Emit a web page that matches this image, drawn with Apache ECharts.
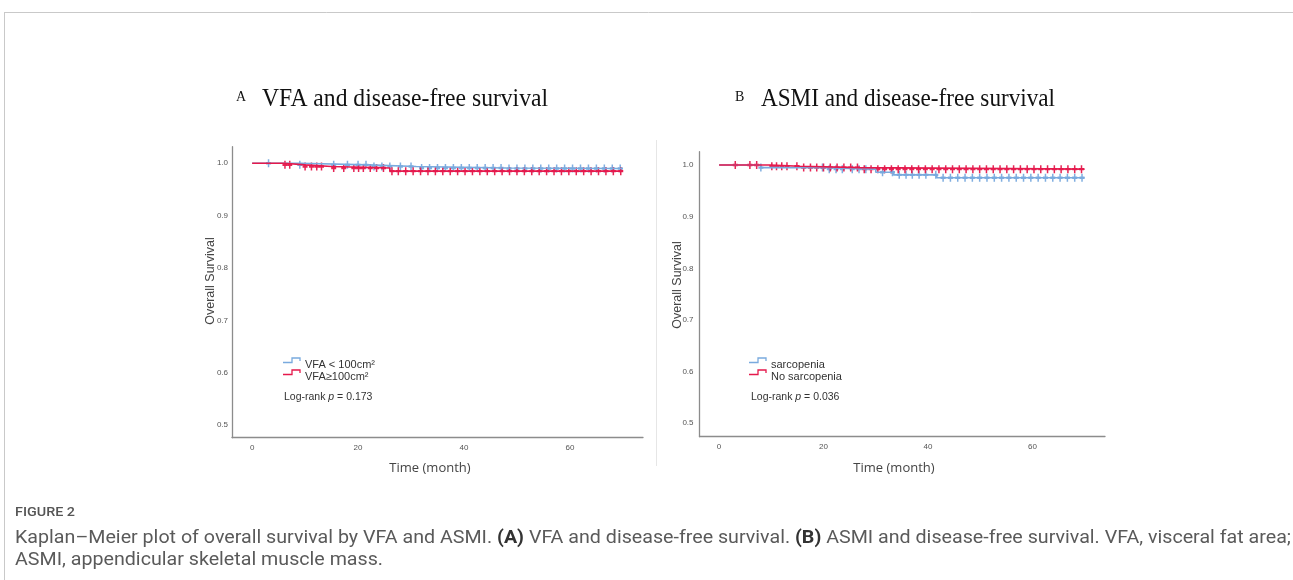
<!DOCTYPE html>
<html><head><meta charset="utf-8">
<script src="https://cdn.jsdelivr.net/npm/echarts@6/dist/echarts.min.js"></script>
<style>html,body{margin:0;padding:0;background:#fff;}#c{width:1293px;height:580px;}</style>
</head><body><div id="c"></div><script>
// ---------------- data ----------------
const panelLetters = ['A', 'B'];
const panelTitles = ['VFA and disease-free survival', 'ASMI and disease-free survival'];
const yAxisTitle = 'Overall Survival';
const xAxisTitle = 'Time (month)';
const timeTicks = [0, 20, 40, 60];
const survTicks = [0.5, 0.6, 0.7, 0.8, 0.9, 1.0];

// Panel A: VFA
const aSeriesNames = ['VFA < 100cm²', 'VFA≥100cm²'];
const aPValue = '0.173';
const aLowTime = [0, 9, 22, 31, 48, 70];
const aLowSurv = [1.0, 0.997, 0.994, 0.991, 0.990, 0.990];
const aHighTime = [0, 6, 10, 15, 26, 70];
const aHighSurv = [1.0, 0.997, 0.994, 0.991, 0.985, 0.985];
const aLowCensor = [3.1, 9, 15.4, 18, 20, 21.5, 23, 24.5, 26, 28, 30, 32, 33.5, 35, 36.5, 38, 39.5, 41, 42.5, 44, 45.5, 47, 48.5, 50, 51.5, 53, 54.5, 56, 57.5, 59, 60.5, 62, 63.5, 65, 66.5, 68, 69.5];
const aHighCensor = [6.2, 7.1, 10, 11.2, 12.2, 13.1, 15.4, 17.3, 19.2, 20.1, 21, 22.3, 23.5, 24.8, 26.4, 27.6, 29, 30.4, 31.8, 33.2, 34.6, 36, 37.4, 38.8, 40.2, 41.6, 43, 44.4, 45.8, 47.2, 48.6, 50, 51.4, 52.8, 54.2, 55.6, 57, 58.4, 59.8, 61.2, 62.6, 64, 65.4, 66.8, 68.2, 69.6];

// Panel B: ASMI
const bSeriesNames = ['sarcopenia', 'No sarcopenia'];
const bPValue = '0.036';
const bSarcTime = [0, 8, 20, 30, 33.4, 41.7, 70];
const bSarcSurv = [1.0, 0.995, 0.992, 0.986, 0.981, 0.9755, 0.9755];
const bNoTime = [0, 9.8, 15.5, 27, 70];
const bNoSurv = [1.0, 0.9975, 0.995, 0.992, 0.992];
const bSarcCensor = [8, 19.8, 21.1, 22.4, 23.6, 25.5, 26.8, 28.1, 31.3, 33.2, 34.5, 35.8, 37, 38.3, 39.6, 41.5, 42.9, 44.3, 45.7, 47.1, 48.5, 49.9, 51.3, 52.7, 54.1, 55.5, 56.9, 58.3, 59.7, 61.1, 62.5, 63.9, 65.3, 66.7, 68.1, 69.5];
const bNoCensor = [3.1, 5.9, 7.2, 10.1, 11, 12, 13, 14.9, 16.2, 17.5, 18.7, 20, 21.3, 22.6, 23.9, 25.2, 26.5, 27.8, 29.1, 30.4, 31.7, 33, 34.3, 35.6, 36.9, 38.2, 39.5, 40.8, 42.1, 43.4, 44.7, 46, 47.3, 48.6, 49.9, 51.2, 52.5, 53.8, 55.1, 56.4, 57.7, 59, 60.3, 61.6, 62.9, 64.2, 65.5, 66.8, 68.1, 69.4];

const captionHead = 'FIGURE 2';
const captionLine1 = [['n', 'Kaplan\u2013Meier plot of overall survival by VFA and ASMI. '], ['b', '(A)'], ['n', ' VFA and disease-free survival. '], ['b', '(B)'], ['n', ' ASMI and disease-free survival. VFA, visceral fat area;']];
const captionLine2 = 'ASMI, appendicular skeletal muscle mass.';

// ---------------- helpers ----------------
const BLUE = '#79aade', RED = '#e5194c';
function pairs(ts, ss) { return ts.map((t, i) => [t, ss[i]]); }
function survAt(ts, ss, t) { let v = ss[0]; for (let i = 0; i < ts.length; i++) { if (ts[i] <= t) v = ss[i]; } return v; }
function censorPts(c, ts, ss) { return c.map(t => [t, survAt(ts, ss, t)]); }
const mctx = document.createElement('canvas').getContext('2d');
function tw(text, font) { mctx.font = font; return mctx.measureText(text).width; }

const CROSS = 'path://M3.5,0h3v3.5h3.5v3h-3.5v3.5h-3v-3.5h-3.5v-3h3.5z';
const axisCol = '#8c8c8c', labCol = '#555';

const grids = [
  { left: 232, width: 411, top: 146.7, height: 291 },
  { left: 699.5, width: 405.5, top: 151.7, height: 285 }
];
const xRanges = [[-3.8, 73.8], [-3.75, 73.9]];
const yRanges = [[0.4757, 1.0317], [0.474, 1.0258]];

function xAxisCfg(i) {
  return { gridIndex: i, type: 'value', min: xRanges[i][0], max: xRanges[i][1],
    axisLine: { show: true, onZero: false, lineStyle: { color: axisCol, width: 1.3 } },
    axisTick: { show: false }, splitLine: { show: false },
    axisLabel: { customValues: timeTicks, fontSize: 8, color: labCol, margin: 6, fontFamily: 'Liberation Sans' } };
}
function yAxisCfg(i) {
  return { gridIndex: i, type: 'value', min: yRanges[i][0], max: yRanges[i][1],
    axisLine: { show: true, onZero: false, lineStyle: { color: axisCol, width: 1.3 } },
    axisTick: { show: false }, splitLine: { show: false },
    axisLabel: { customValues: survTicks, fontSize: 8, color: labCol, margin: i === 0 ? 4 : 6, fontFamily: 'Liberation Sans', formatter: v => v.toFixed(1) } };
}
function stepSeries(i, name, ts, ss, col) {
  return { type: 'line', name, xAxisIndex: i, yAxisIndex: i, step: 'end', data: pairs(ts, ss), showSymbol: false, symbol: 'none',
    lineStyle: { color: col, width: 1.6 }, silent: true, animation: false };
}
function censorSeries(i, c, ts, ss, col) {
  return { type: 'scatter', xAxisIndex: i, yAxisIndex: i, data: censorPts(c, ts, ss), symbol: CROSS, symbolSize: [5, 8],
    itemStyle: { color: col, opacity: 0.95 }, silent: true, animation: false };
}

// ---------------- graphics ----------------
const g = [];
g.push({ type: 'line', shape: { x1: 4, y1: 12.5, x2: 1293, y2: 12.5 }, style: { stroke: '#c9c9c9', lineWidth: 1 } });
g.push({ type: 'line', shape: { x1: 4.5, y1: 12, x2: 4.5, y2: 580 }, style: { stroke: '#c9c9c9', lineWidth: 1 } });
g.push({ type: 'line', shape: { x1: 656.5, y1: 140, x2: 656.5, y2: 466 }, style: { stroke: '#e6e6e6', lineWidth: 1 } });

function fitText(text, font, x, y, targetW, fill, extra) {
  const s = targetW / tw(text, font);
  return Object.assign({ type: 'text', x, y, scaleX: s, style: { text, font, fill, textBaseline: 'middle', textAlign: 'left' } }, extra || {});
}
const titleFont = '25px "Liberation Serif"';
const letterFont = '14px "Liberation Serif"';
const titleX = [[236, 262, 548], [735, 761, 1055]];
for (let i = 0; i < 2; i++) {
  g.push({ type: 'text', x: titleX[i][0], y: 90, style: { text: panelLetters[i], font: letterFont, fill: '#111', textBaseline: 'middle' } });
  g.push(fitText(panelTitles[i], titleFont, titleX[i][1], 87, titleX[i][2] - titleX[i][1], '#111'));
}
const yTitleX = [204, 671], yTitleY = [281, 285], xTitleX = [430, 894];
for (let i = 0; i < 2; i++) {
  g.push({ type: 'text', x: yTitleX[i], y: yTitleY[i], rotation: Math.PI / 2,
    style: { text: yAxisTitle, font: '12.5px "Liberation Sans"', fill: '#444', textAlign: 'center', textBaseline: 'middle' } });
  g.push({ type: 'text', x: xTitleX[i], y: 462,
    style: { text: xAxisTitle, font: '13px "Open Sans"', fill: '#444', textAlign: 'center', textBaseline: 'middle' } });
}
function legendItem(x, y, col, label) {
  g.push({ type: 'polyline', shape: { points: [[x, y + 2.5], [x + 9, y + 2.5], [x + 9, y - 2], [x + 17, y - 2], [x + 17, y + 1]] },
    style: { stroke: col, lineWidth: 1.3, fill: null } });
  g.push({ type: 'text', x: x + 22, y: y - 1, style: { text: label, font: '11px "Liberation Sans"', fill: '#333', textBaseline: 'middle' } });
}
legendItem(283, 360, BLUE, aSeriesNames[0]);
legendItem(283, 372, RED, aSeriesNames[1]);
legendItem(749, 360, BLUE, bSeriesNames[0]);
legendItem(749, 372, RED, bSeriesNames[1]);
function pText(x, y, p) {
  g.push({ type: 'text', x, y, style: { text: '{n|Log-rank }{i|p}{n| = ' + p + '}', textBaseline: 'middle',
    rich: { n: { font: '10.5px "Liberation Sans"', fill: '#333' }, i: { font: 'italic 10.5px "Liberation Sans"', fill: '#333' } } } });
}
pText(284, 392, aPValue);
pText(751, 392, bPValue);

// caption
const capCol = '#5a5a5a';
g.push(fitText(captionHead, '500 13.5px Roboto', 15, 506, 60, '#555'));
const fN = '18px Roboto', fB = '700 18px Roboto';
const capW = captionLine1.reduce((s, seg) => s + tw(seg[1], seg[0] === 'b' ? fB : fN), 0);
const capScale = 1276 / capW;
g.push({ type: 'text', x: 15, y: 529, scaleX: capScale, style: {
  text: captionLine1.map(seg => '{' + seg[0] + '|' + seg[1] + '}').join(''), textBaseline: 'middle',
  rich: { n: { font: fN, fill: capCol }, b: { font: fB, fill: '#333' } } } });
g.push({ type: 'text', x: 15, y: 551, scaleX: capScale, style: { text: captionLine2, font: fN, fill: capCol, textBaseline: 'middle' } });

// ---------------- chart ----------------
const chart = echarts.init(document.getElementById('c'), null, { renderer: 'canvas' });
chart.setOption({
  animation: false,
  backgroundColor: '#fff',
  grid: grids,
  xAxis: [xAxisCfg(0), xAxisCfg(1)],
  yAxis: [yAxisCfg(0), yAxisCfg(1)],
  series: [
    stepSeries(0, aSeriesNames[0], aLowTime, aLowSurv, BLUE),
    censorSeries(0, aLowCensor, aLowTime, aLowSurv, BLUE),
    stepSeries(0, aSeriesNames[1], aHighTime, aHighSurv, RED),
    censorSeries(0, aHighCensor, aHighTime, aHighSurv, RED),
    stepSeries(1, bSeriesNames[0], bSarcTime, bSarcSurv, BLUE),
    censorSeries(1, bSarcCensor, bSarcTime, bSarcSurv, BLUE),
    stepSeries(1, bSeriesNames[1], bNoTime, bNoSurv, RED),
    censorSeries(1, bNoCensor, bNoTime, bNoSurv, RED)
  ],
  graphic: g
});
</script></body></html>
